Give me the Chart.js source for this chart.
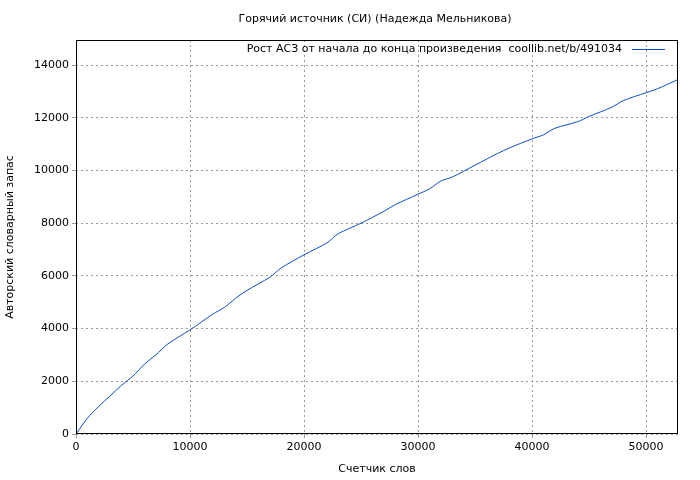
<!DOCTYPE html>
<html><head><meta charset="utf-8">
<script src="https://cdn.jsdelivr.net/npm/chart.js@4"></script>
<style>body{margin:0;background:#fff}#wrap{width:700px;height:480px}</style>
</head><body><div id="wrap"><canvas id="c"></canvas></div>
<script>
// данные
const words = [0,1000,2000,3000,4000,5000,6000,7000,8000,10000,12000,13000,14000,15000,17000,18000,20000,22000,23000,25000,27000,28000,30000,31000,32000,33000,35000,37000,38000,40000,41000,42000,44000,45000,47000,48000,50000,51000,52800];
const vocab = [0,600,1050,1450,1850,2200,2650,3000,3400,3950,4550,4800,5150,5450,5950,6300,6800,7250,7600,8000,8450,8700,9100,9300,9600,9750,10200,10650,10850,11200,11350,11600,11850,12050,12400,12650,12950,13100,13450];
const xTicks = [0,10000,20000,30000,40000,50000];
const yTicks = [0,2000,4000,6000,8000,10000,12000,14000];
const title = 'Горячий источник (СИ) (Надежда Мельникова)';
const seriesLabel = 'Рост АСЗ от начала до конца произведения  coollib.net/b/491034';
const font = '11px "DejaVu Sans"';

const texts = {
  id: 'texts',
  afterDraw(chart) {
    const ctx = chart.ctx, a = chart.chartArea;
    ctx.save();
    ctx.fillStyle = '#000';
    ctx.font = font;
    ctx.textAlign = 'center'; ctx.textBaseline = 'middle';
    ctx.fillText(title, 375, 19);
    ctx.fillText('Счетчик слов', (a.left + a.right) / 2, 469);
    ctx.translate(10, (a.top + a.bottom) / 2); ctx.rotate(-Math.PI / 2);
    ctx.fillText('Авторский словарный запас', 0, 0);
    ctx.restore();
    ctx.save();
    ctx.font = font; ctx.fillStyle = '#000';
    ctx.textAlign = 'right'; ctx.textBaseline = 'middle';
    ctx.fillText(seriesLabel, 622, 49);
    ctx.strokeStyle = '#0a4fc4'; ctx.lineWidth = 1;
    ctx.beginPath(); ctx.moveTo(632, 49.5); ctx.lineTo(665, 49.5); ctx.stroke();
    ctx.strokeStyle = '#000';
    ctx.strokeRect(a.left + 0.5, a.top + 0.5, a.right - a.left - 1, a.bottom - a.top - 1);
    ctx.restore();
  }
};

const tickFont = { family: 'DejaVu Sans', size: 11 };

new Chart(document.getElementById('c'), {
  type: 'line',
  data: {
    datasets: [{
      data: words.map((w, i) => ({ x: w, y: vocab[i] })),
      borderColor: '#0a4fc4', borderWidth: 1, pointRadius: 0, tension: 0.3
    }]
  },
  options: {
    responsive: true, maintainAspectRatio: false, animation: false,
    layout: { padding: { top: 40, right: 22 } },
    plugins: { legend: { display: false }, tooltip: { enabled: false } },
    scales: {
      x: {
        type: 'linear', min: 0, max: 52800,
        afterBuildTicks: s => { s.ticks = xTicks.map(v => ({ value: v })); },
        ticks: { color: '#000', font: tickFont, maxRotation: 0, callback: v => String(v) },
        grid: { color: '#999', tickLength: 4 },
        border: { display: false, dash: [2, 3] },
        afterFit: s => { s.height = 46; }
      },
      y: {
        min: 0, max: 14950,
        afterBuildTicks: s => { s.ticks = yTicks.map(v => ({ value: v })); },
        ticks: { color: '#000', font: tickFont, callback: v => String(v) },
        grid: { color: '#999', tickLength: 4 },
        border: { display: false, dash: [2, 3] },
        afterFit: s => { s.width = 76; }
      }
    }
  },
  plugins: [texts]
});
</script></body></html>
